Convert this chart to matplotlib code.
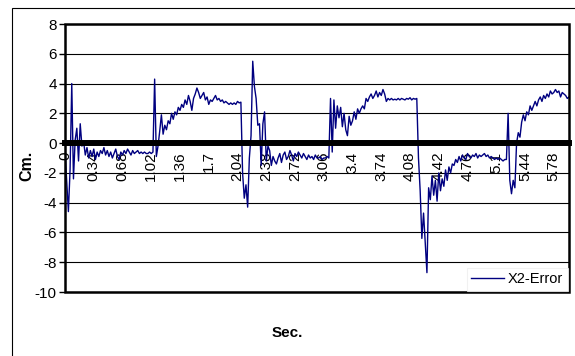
import numpy as np
import matplotlib
matplotlib.use('Agg')
import matplotlib.pyplot as plt
from matplotlib.patches import Rectangle

plt.rcParams['font.family'] = ['Liberation Sans', 'DejaVu Sans']

## Data
# X2 tracking error (cm), sampled every 0.02 s
dt = 0.02
x2_error = [
    # start-up transient
    -0.5, -2.5, -4.6, -1.8, 4.0, -2.4, 0.2, 1.0, -1.2, 1.3, -0.2, 0.1, -0.8,
    # first rest
    -0.3, -1.0, -0.5, -0.9, -0.4, -1.1, -0.6, -0.9, -0.5, -0.7, -0.3, -0.8,
    -0.5, -0.9, -0.6, -1.0, -0.7, -0.4, -0.9, -1.1, -0.6, -0.8, -0.5, -0.7,
    -0.4, -0.6, -0.8, -0.5, -0.7, -0.6, -0.5, -0.7, -0.6, -0.7, -0.6, -0.7,
    -0.7, -0.6, -0.7, -0.6, 4.3,
    # first move
    -0.9, -0.2, 0.8, 1.9, 0.6, 1.2, 0.9, 1.5, 1.3, 2.0, 1.6, 2.1, 1.9, 2.4,
    2.2, 2.6, 2.4, 2.9, 2.6, 3.2, 2.8, 2.2, 3.0, 3.3, 3.7, 3.4, 3.0, 3.2,
    3.4, 2.9, 3.1, 2.6, 2.9, 2.8, 3.0, 3.2, 2.9, 3.0, 2.8, 2.9, 2.7, 2.8,
    2.7, 2.6, 2.7, 2.6, 2.7, 2.6, 2.8, 2.7, 2.75,
    # stop
    -2.0, -3.7, -2.8, -4.3, -1.0, 0.5, 5.5, 3.8, 3.0, 1.2, 1.3, -1.5, 1.3,
    2.1, -1.2, -0.2, -0.5, -1.5, -0.9, -1.2, -1.4,
    # second rest
    -1.0, -0.7, -1.3, -0.8, -0.6, -1.1, -0.9, -0.5, -0.8, -1.2, -0.7, -0.9,
    -0.6, -0.8, -1.0, -0.7, -0.9, -1.1, -0.8, -1.0, -0.9, -1.1, -0.8, -1.0,
    -1.0, -0.9, -1.1, -1.0, -1.0, -0.9, -1.0,
    # second move
    3.0, -0.6, 2.9, 1.0, 2.5, 1.7, 2.4, 1.1, 2.0, 0.9, 0.5, 1.8, 1.2, 1.5,
    2.1, 1.6, 2.3, 2.0, 2.3, 2.5, 2.3, 3.0, 2.8, 3.1, 3.3, 3.0, 3.2, 3.5,
    3.1, 3.4, 3.2, 3.6, 3.3, 2.8, 3.0, 2.9, 3.0, 2.9, 2.95, 2.9, 3.0, 2.9,
    3.0, 2.95, 2.9, 3.0, 2.95, 3.05, 2.9, 3.0, 2.95, 3.0,
    # stop
    -1.0, -3.2, -6.4, -4.7, -6.7, -8.7, -3.0, -3.8, -2.2, -3.5, -2.5, -3.9,
    -2.0, -3.2, -2.4, -2.9, -1.8, -2.5, -1.6, -2.0, -1.4,
    # third rest
    -1.5, -1.1, -1.3, -0.9, -1.2, -0.8, -1.0, -1.1, -0.7, -0.9, -1.0, -0.8,
    -0.9, -0.7, -1.0, -0.8, -0.9, -0.8, -0.7, -0.9, -0.8, -1.0, -0.9, -1.0,
    -1.1, -1.0, -1.1, -1.0, -1.1, -1.2, -1.1, -1.1,
    # third move
    2.0, -2.5, -3.4, -2.5, -3.0, 0.0, 0.7, 0.4, 1.4, 1.9, 1.5, 2.1, 1.9,
    2.5, 2.2, 2.5, 2.8, 2.5, 2.9, 3.1, 2.8, 3.2, 3.0, 3.3, 3.1, 3.5, 3.3,
    3.4, 3.6, 3.4, 3.5, 3.1, 3.4, 3.3, 3.2, 3.0, 3.1,
]
sec_labels = ['0', '0.34', '0.68', '1.02', '1.36', '1.7', '2.04', '2.38',
              '2.72', '3.06', '3.4', '3.74', '4.08', '4.42', '4.76', '5.1',
              '5.44', '5.78']
label_step = 0.34
cm_ticks = [-10, -8, -6, -4, -2, 0, 2, 4, 6, 8]

t = np.arange(len(x2_error)) * dt

## Figure
fig = plt.figure(figsize=(5.75, 3.56), dpi=100)
# chart border
fig.patches.append(Rectangle((12 / 575, -0.05), 1.1, 1 - 8 / 356 + 0.05,
                             transform=fig.transFigure, fill=False,
                             edgecolor='black', lw=0.8))
ax = fig.add_axes([65 / 575, 1 - 292 / 356, 504 / 575, 268 / 356])

ax.plot(t, x2_error, color='#000080', lw=1.0, label='X2-Error', zorder=2)

ax.set_xlim(0, t[-1])
ax.set_ylim(cm_ticks[0], cm_ticks[-1])
ax.set_yticks(cm_ticks)
ax.set_yticklabels([str(v) for v in cm_ticks], fontsize=11)
ax.tick_params(axis='y', length=4, width=1, pad=2)
ax.yaxis.grid(True, color='black', lw=0.8)
ax.set_axisbelow(True)

# category axis sits on zero
for side in ['top', 'left', 'right']:
    ax.spines[side].set_visible(False)
ax.spines['bottom'].set_position(('data', 0))
ax.spines['bottom'].set_linewidth(4.3)
ax.spines['bottom'].set_zorder(3)
ax.set_xticks(np.arange(len(sec_labels)) * label_step)
ax.set_xticklabels(sec_labels, rotation=90, fontsize=11)
ax.tick_params(axis='x', length=0, pad=6)

# plot-area frame
ax.add_patch(Rectangle((0, 0), 1, 1, transform=ax.transAxes, fill=False,
                       edgecolor='black', lw=1.8, clip_on=False, zorder=4))

ax.set_ylabel('Cm.', fontsize=11.5, fontweight='bold')
ax.yaxis.set_label_coords(-0.061, 0.47)
fig.text(287 / 575, 1 - 333 / 356, 'Sec.', fontsize=11, fontweight='bold',
         ha='center', va='center')

leg = ax.legend(loc='lower right', fontsize=10.5, frameon=True, fancybox=False,
                borderaxespad=0.1, handlelength=2.2, handletextpad=0.3,
                borderpad=0.3)
leg.get_frame().set_edgecolor('#eeeeee')
leg.get_frame().set_linewidth(0.8)

fig.savefig('out.png', dpi=100)
